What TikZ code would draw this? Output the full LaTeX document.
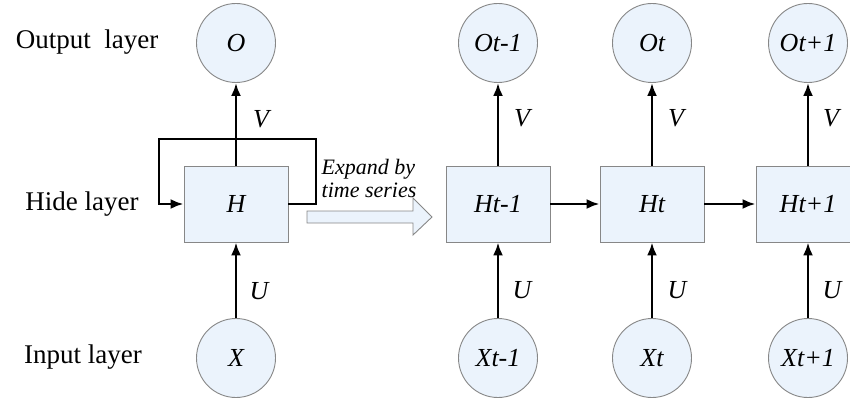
\documentclass[tikz,border=0pt]{standalone}
\usepackage{fontspec}
\setmainfont{Liberation Serif}
\usetikzlibrary{arrows.meta}
\definecolor{cellfill}{HTML}{EBF3FC}
\definecolor{celledge}{HTML}{878787}
\begin{document}
\begin{tikzpicture}[x=1pt,y=-1pt,
  unit/.style={circle,draw=celledge,fill=cellfill,line width=0.9pt,
    minimum size=79pt,inner sep=0pt,font=\fontsize{26}{28}\selectfont\itshape},
  hidden/.style={rectangle,draw=celledge,fill=cellfill,line width=0.9pt,
    minimum width=104pt,minimum height=76pt,inner sep=0pt,
    font=\fontsize{26}{28}\selectfont\itshape},
  layer/.style={font=\fontsize{27}{30}\selectfont},
  weight/.style={font=\fontsize{26}{28}\selectfont\itshape},
  flow/.style={line width=2.5pt,-{Latex[length=13pt,width=10pt]}},
  link/.style={line width=2.5pt}
]
\useasboundingbox (0,0) rectangle (850,398);
\clip (0,0) rectangle (850,398);

% layer names
\node[layer] (lout) at (87,42) {Output\ \ layer};
\node[layer] (lhid) at (82,204) {Hide layer};
\node[layer] (lin)  at (83,357) {Input layer};

% folded network
\node[unit]   (O) at (236,43)  {O};
\node[hidden] (H) at (236,204) {H};
\node[unit]   (X) at (236,358) {X};

% unfolded network
\node[unit]   (O1) at (498,43)  {Ot-1};
\node[unit]   (O2) at (652,43)  {Ot};
\node[unit]   (O3) at (808,43)  {Ot+1};
\node[hidden] (H1) at (498,204) {Ht-1};
\node[hidden] (H2) at (652,204) {Ht};
\node[hidden] (H3) at (808,204) {Ht+1};
\node[unit]   (X1) at (498,358) {Xt-1};
\node[unit]   (X2) at (652,358) {Xt};
\node[unit]   (X3) at (808,358) {Xt+1};

% vertical connections
\foreach \h/\o/\x in {H/O/X,H1/O1/X1,H2/O2/X2,H3/O3/X3}{
  \draw[flow] (\h.north) -- (\o.south);
  \draw[flow] (\x.north) -- (\h.south);
}

% recurrent loop of the folded cell
\coordinate (fbR) at (316,139);
\coordinate (fbL) at (159,139);
\draw[flow] (H.east) -| (fbR) -- (fbL) |- (H.west);

% recurrence through time
\draw[flow] (H1.east) -- (H2.west);
\draw[flow] (H2.east) -- (H3.west);

% weight labels
\node[weight] (v0) at (261,119) {V};
\node[weight] (v1) at (522,118) {V};
\node[weight] (v2) at (676,118) {V};
\node[weight] (v3) at (831,118) {V};
\node[weight] (u0) at (259,291) {U};
\node[weight] (u1) at (522,290) {U};
\node[weight] (u2) at (677,290) {U};
\node[weight] (u3) at (832,290) {U};

% hollow unfolding arrow
\draw[draw=celledge,fill=cellfill,line width=0.9pt]
  (307,211) -- (413,211) -- (413,198) -- (432,217) -- (413,235)
  -- (413,223) -- (307,223) -- cycle;
\node[align=left,font=\fontsize{22}{23}\selectfont\itshape,inner sep=0pt]
  (expand) at (369,178) {Expand by\\time series};
\end{tikzpicture}
\end{document}
